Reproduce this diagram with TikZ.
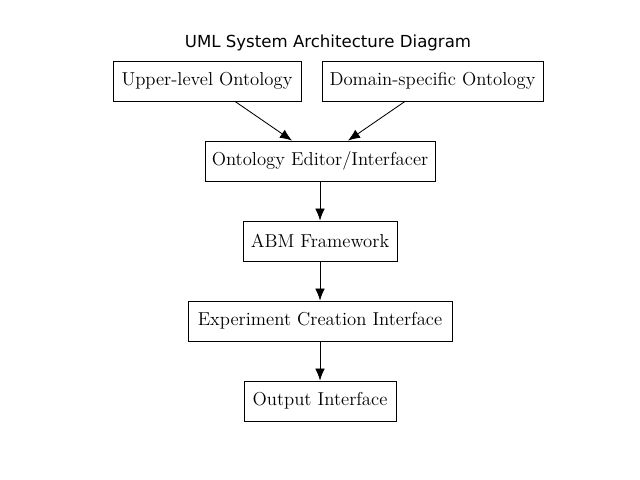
\documentclass[tikz,border=0pt]{standalone}
\usepackage{fontspec}
\usepackage{tikz}
\usetikzlibrary{arrows.meta,calc,positioning}
\newfontfamily\titlefont{DejaVu Sans}
\tikzset{
  compbox/.style={
    draw=black,
    line width=0.6pt,
    fill=white,
    align=center,
    font=\fontsize{13.3}{15}\selectfont,
    inner sep=0pt,
    minimum height=1cm
  },
  flowedge/.style={line width=0.6pt, draw=black, -{Latex[length=3mm,width=2.4mm]}},
  title/.style={font=\titlefont\fontsize{11.8}{14}\selectfont}
}

\begin{document}
\begin{tikzpicture}[x=0.025cm,y=-0.025cm]
\path[use as bounding box] (0,0) rectangle (640,480);
\fill[white] (0,0) rectangle (640,480);
\node[title] (title) at (328,43) {UML System Architecture Diagram};

\node[compbox, minimum width=4.7cm] (upper) at (207,81) {Upper-level Ontology};
\node[compbox, minimum width=5.525cm] (domain) at (432.5,81) {Domain-specific Ontology};
\node[compbox, minimum width=5.75cm] (editor) at (320,161) {Ontology Editor/Interfacer};
\node[compbox, minimum width=3.85cm] (abm) at (320,241) {ABM Framework};
\node[compbox, minimum width=6.6cm] (expt) at (320,321) {Experiment Creation Interface};
\node[compbox, minimum width=3.8cm] (output) at (320,401) {Output Interface};

\draw[flowedge] ([xshift=0.7cm]upper.south) -- ([xshift=-0.7cm]editor.north);
\draw[flowedge] ([xshift=-0.6875cm]domain.south) -- ([xshift=0.7cm]editor.north);
\draw[flowedge] (editor) -- (abm);
\draw[flowedge] (abm) -- (expt);
\draw[flowedge] (expt) -- (output);

\end{tikzpicture}
\end{document}
